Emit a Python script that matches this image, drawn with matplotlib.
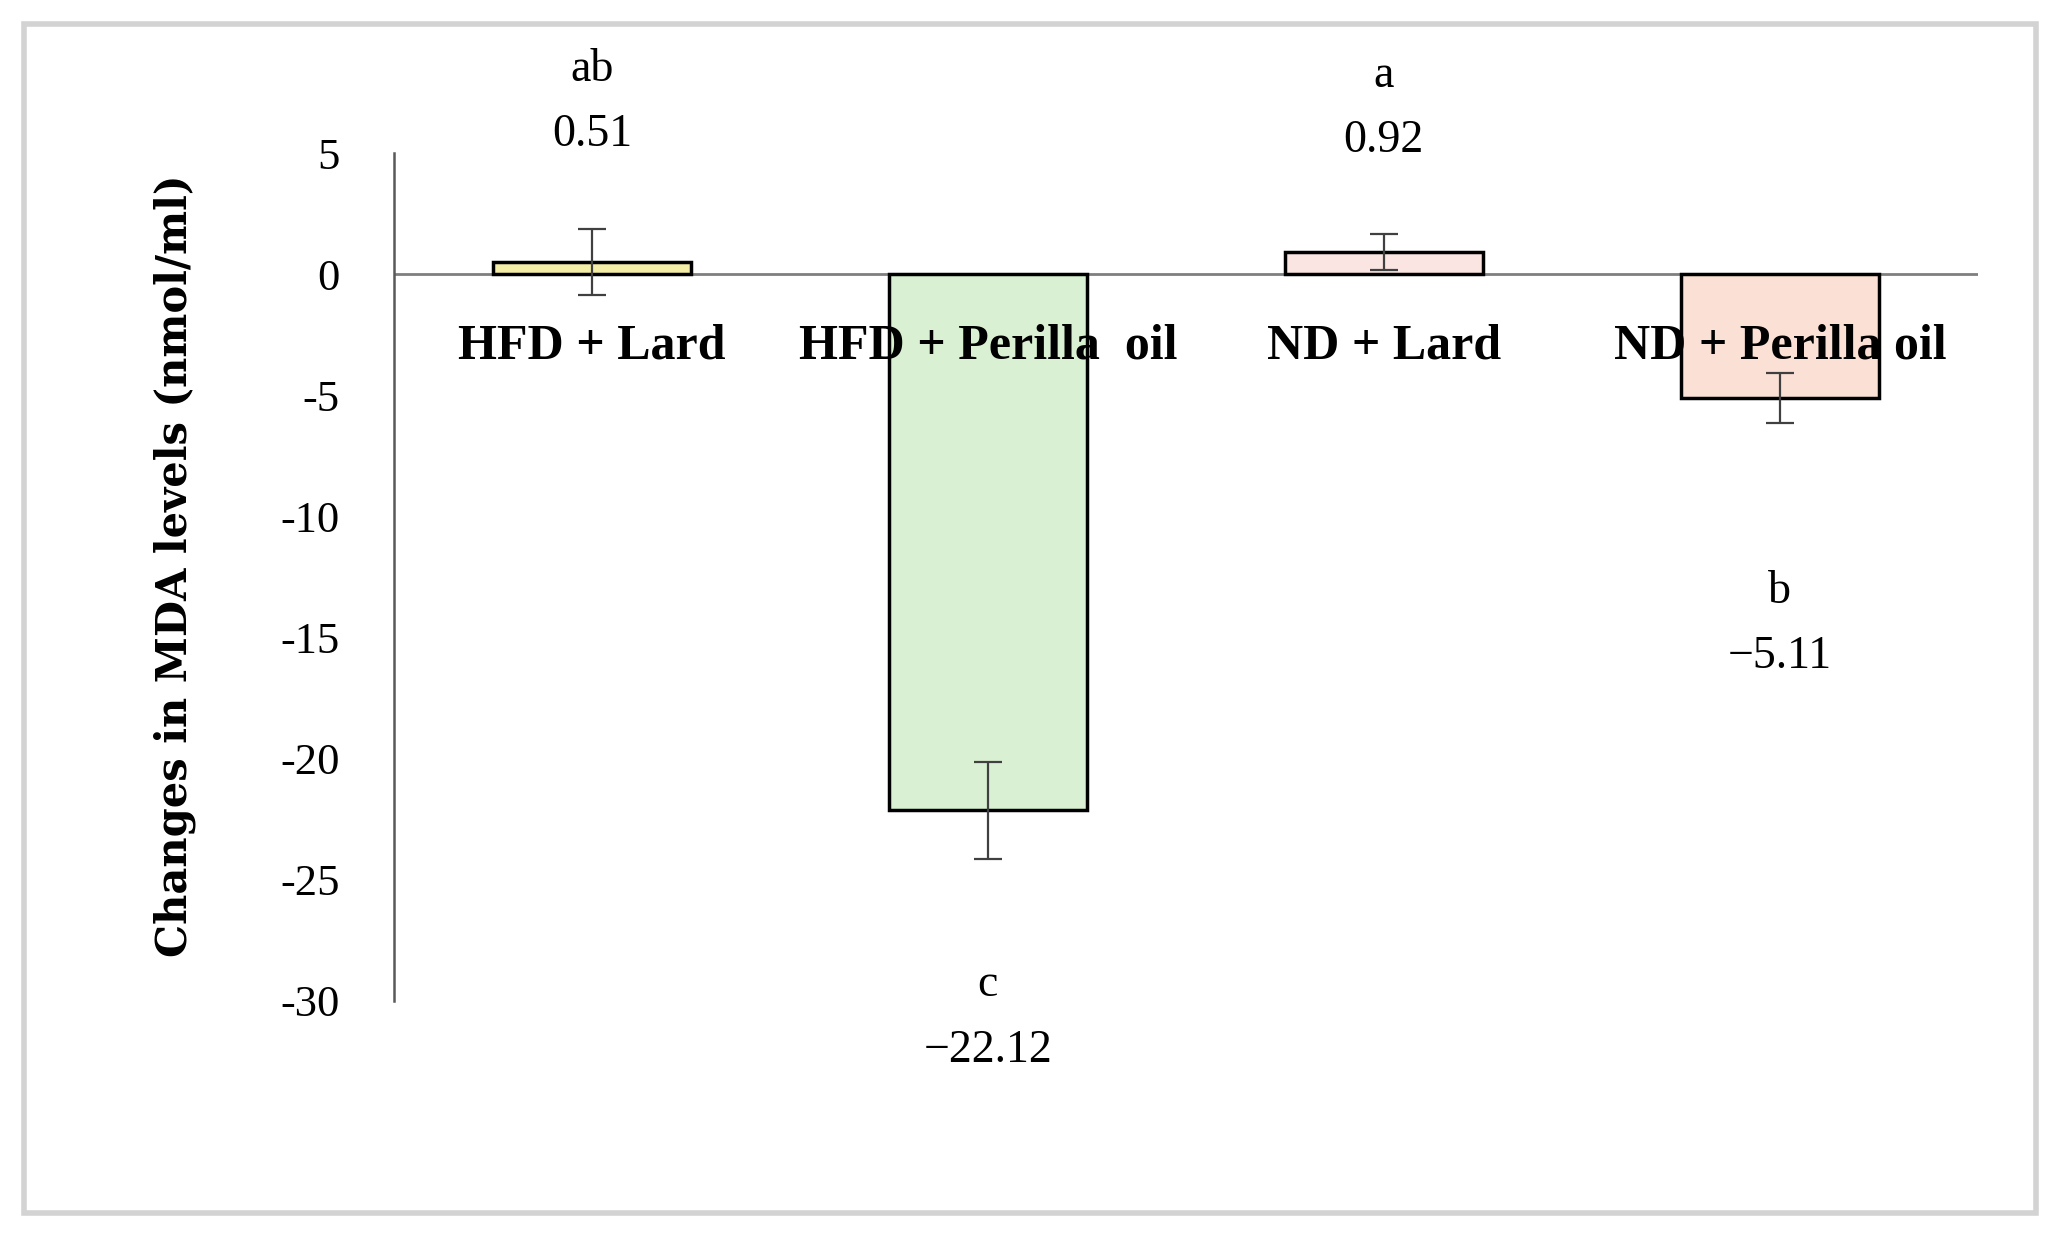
import matplotlib.pyplot as plt
from matplotlib.patches import Rectangle

plt.rcParams['axes.unicode_minus'] = False

# data
groups = ['HFD + Lard', 'HFD + Perilla  oil', 'ND + Lard', 'ND + Perilla oil']
means = [0.51, -22.12, 0.92, -5.11]
errors = [1.36, 2.0, 0.73, 1.03]
letters = ['ab', 'c', 'a', 'b']
value_labels = ['0.51', '\u221222.12', '0.92', '\u22125.11']
colors = ['#F4EDA8', '#D9F1D2', '#FBE5E2', '#FBE1D5']

# where the letter / value text sits (data units)
letter_y = [8.45, -29.35, 8.2, -13.1]
value_y = [5.75, -32.05, 5.5, -15.8]
group_label_y = -3.0

fig = plt.figure(figsize=(20.57, 12.37), dpi=100)
ax = fig.add_axes([0.1915, 0.1908, 0.770, 0.6855])

x = range(len(groups))
ax.bar(x, means, width=0.5, color=colors, edgecolor='black', linewidth=2.5, zorder=2)
ax.errorbar(x, means, yerr=errors, fmt='none', ecolor='#404040', elinewidth=1.6,
            capsize=10, capthick=1.6, zorder=3)

ax.axhline(0, color='#7f7f7f', linewidth=2, zorder=1)

for i in x:
    ax.text(i, group_label_y, groups[i], ha='center', va='center', fontsize=36,
            fontweight='bold', family='Liberation Serif', zorder=4)
    ax.text(i, letter_y[i], letters[i], ha='center', va='center', fontsize=33,
            family='Liberation Serif', clip_on=False)
    ax.text(i, value_y[i], value_labels[i], ha='center', va='center', fontsize=33,
            family='Liberation Serif', clip_on=False)

ax.set_xlim(-0.5, 3.5)
ax.set_ylim(-30, 5)
ax.set_yticks(range(-30, 6, 5))
ax.set_xticks([])
ax.tick_params(axis='y', length=0, pad=39)
for lab in ax.get_yticklabels():
    lab.set_family('Liberation Serif')
    lab.set_fontsize(32)

for s in ['top', 'right', 'bottom']:
    ax.spines[s].set_visible(False)
ax.spines['left'].set_color('#595959')
ax.spines['left'].set_linewidth(1.8)

ax.set_ylabel('Changes in MDA levels (nmol/ml)', fontsize=30, fontweight='bold',
              fontfamily='DejaVu Serif')
ax.yaxis.set_label_coords(-0.125, 0.513)

# light frame around the figure
fig.patches.append(Rectangle((0.0117, 0.0194), 0.978, 0.961, transform=fig.transFigure,
                             fill=False, edgecolor='#d3d3d3', linewidth=4))

fig.savefig('out.png', dpi=100)
